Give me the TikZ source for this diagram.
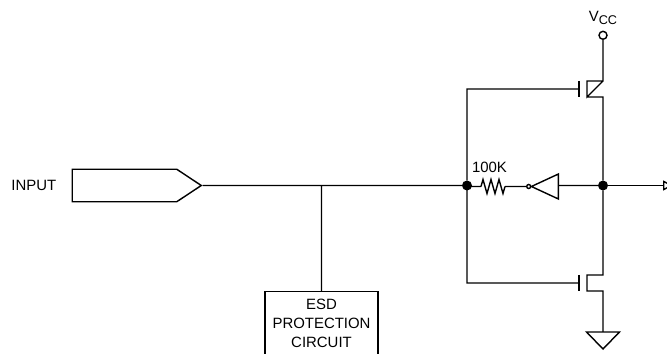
\documentclass[tikz,border=0pt]{standalone}
\usepackage{fontspec}
\setmainfont{Liberation Sans}
\usetikzlibrary{positioning, shapes.symbols, arrows.meta}
\tikzset{wire/.style={draw, line width=0.8pt},
  dot/.style={circle, fill, minimum size=0.2cm, inner sep=0pt, outer sep=0pt},
  lbl/.style={inner sep=0pt, font=\fontsize{8.5}{10.8}\selectfont, align=center},}

\begin{document}
\begin{tikzpicture}
        \path[use as bounding box, clip] (0,0) rectangle (13.34,7.08);
        % Input side
        \node[signal, signal to=east, signal pointer angle=67, wire, minimum width=2.58cm, minimum height=0.65cm, inner sep=0pt] (input) at (2.49,3.37) {};
        \node[lbl] [left = 0.3 of input] (inputlabel) {INPUT};
        \node[dot] (gatejoin) at (9.34,3.37) {};
        \node[dot] [right = 2.52 of gatejoin] (outjoin) {};
        \coordinate [right = 1.4 of outjoin.center] (output);
        \coordinate (tap) at (6.43,3.37);
        \node[lbl, wire, inner xsep=0.06cm, inner ysep=0.14cm, text width=2.14cm] [below = 2.11 of tap] (esd) {ESD\\PROTECTION\\CIRCUIT\\\mbox{}};
        % Transistors
        \coordinate [above right = 1.93 and 2.24 of gatejoin.center] (pgate);
        \coordinate [below right = 1.95 and 2.24 of gatejoin.center] (ngate);
        \coordinate [right = 0.16 of pgate] (pchan);
        \coordinate [right = 0.16 of ngate] (nchan);
        \coordinate [above right = 0.16 and 0.32 of pchan] (psource);
        \coordinate [below right = 0.16 and 0.32 of pchan] (pdrain);
        \coordinate [above right = 0.16 and 0.32 of nchan] (ndrain);
        \coordinate [below right = 0.16 and 0.32 of nchan] (nsource);
        % Supply and ground
        \node[circle, wire, minimum size=0.16cm, inner sep=0pt] [above = 0.82 of psource] (vcc) {};
        \node[lbl] [above = 0.12 of vcc] (vcclabel) {V\raisebox{-0.05cm}{\fontsize{7.2}{8}\selectfont CC}};
        \coordinate [below = 0.82 of nsource] (gnd);
        % Feedback path
        \coordinate [below right = 0.02 and 0.28 of gatejoin.center] (resin);
        \coordinate [right = 0.48 of resin] (resout);
        \node[lbl] [above = 0.26 of resout, xshift=-0.31cm] (reslabel) {100K};
        \node[circle, wire, minimum size=0.08cm, inner sep=0pt] [right = 0.42 of resout] (bubble) {};
        \coordinate [right = 0.54 of bubble.east] (invback);
        % Paths
        \path[wire]
        (input.east) -- (gatejoin)
        (tap) -- (esd.north)
        (gatejoin) -- (gatejoin |- resin) -- (resin)
        (gatejoin) |- (pgate)
        (gatejoin) |- (ngate)
        (vcc) -- (psource) -- (pchan |- psource) -- (pchan |- pdrain) -- (psource)
        (pchan |- pdrain) -- (pdrain) -- (outjoin) -- (ndrain) -- (nchan |- ndrain) -- (nchan |- nsource) -- (nsource) -- (gnd)
        (resout) -- (bubble)
        (invback |- outjoin) -- (outjoin);
        % Resistor
        \draw[wire] (resin) -- ++(0.04,0.14) -- ++(0.08,-0.28) -- ++(0.08,0.28) -- ++(0.08,-0.28) -- ++(0.08,0.28) -- ++(0.08,-0.28) -- (resout);
        % Inverter, ground, gates
        \draw[wire] (bubble.east) -- ([yshift=0.25cm]invback) -- ([yshift=-0.25cm]invback) -- cycle;
        \draw[wire] (gnd) ++(-0.33,0) -- ++(0.66,0) -- ++(-0.33,-0.34) -- cycle;
        \draw[wire] (pgate) ++(0,0.16) -- ++(0,-0.32);
        \draw[wire] (ngate) ++(0,0.16) -- ++(0,-0.32);
        \draw[wire, -{Triangle[open, length=0.2cm, width=0.2cm]}] (outjoin) -- (output);
    \end{tikzpicture}
\end{document}
